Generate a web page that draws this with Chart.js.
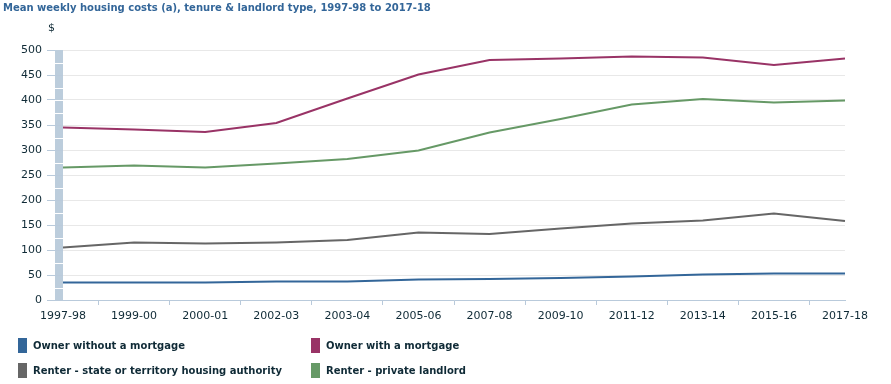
<!DOCTYPE html>
<html lang="en">
<head>
  <meta charset="UTF-8">
  <title>Mean weekly housing costs</title>
  <script src="https://cdn.jsdelivr.net/npm/chart.js"></script>
  <style>
    body {
      margin: 0;
      background: #fff;
      font-family: "DejaVu Sans", Verdana, sans-serif;
    }
    #wrap {
      position: relative;
      width: 891px;
      height: 384px;
    }
    #chart-box {
      position: absolute;
      left: 0;
      top: 0;
      width: 891px;
      height: 384px;
    }
    .title {
      position: absolute;
      left: 3px;
      top: 2px;
      font-size: 10px;
      font-weight: bold;
      color: #336699;
      white-space: nowrap;
    }
    .unit {
      position: absolute;
      left: 48px;
      top: 21px;
      font-size: 11px;
      color: #0f2a36;
    }
    .legend-item {
      position: absolute;
      font-size: 10px;
      font-weight: bold;
      color: #0f2a36;
      white-space: nowrap;
      line-height: 15px;
    }
    .legend-item span {
      display: inline-block;
      width: 9px;
      height: 15px;
      vertical-align: top;
      margin-right: 6px;
    }
  </style>
</head>
<body>
  <div id="wrap">
    <div id="chart-box"><canvas id="housingChart"></canvas></div>
    <div class="title">Mean weekly housing costs (a), tenure &amp; landlord type, 1997-98 to 2017-18</div>
    <div class="unit">$</div>
    <div id="legend"></div>
  </div>
  <script>
    var years = ['1997-98', '1999-00', '2000-01', '2002-03', '2003-04', '2005-06',
                 '2007-08', '2009-10', '2011-12', '2013-14', '2015-16', '2017-18'];
    var ownerNoMortgage = [35, 35, 35, 37, 37, 41, 42, 44, 47, 51, 53, 53];
    var ownerMortgage = [345, 341, 336, 354, 403, 451, 480, 483, 487, 485, 470, 483];
    var renterState = [105, 115, 113, 115, 120, 135, 132, 143, 153, 159, 173, 158];
    var renterPrivate = [265, 269, 265, 273, 282, 299, 335, 362, 391, 402, 395, 399];
    var yTicks = [0, 50, 100, 150, 200, 250, 300, 350, 400, 450, 500];

    var series = [
      { label: 'Owner without a mortgage', data: ownerNoMortgage, color: '#336699' },
      { label: 'Owner with a mortgage', data: ownerMortgage, color: '#993366' },
      { label: 'Renter - state or territory housing authority', data: renterState, color: '#666666' },
      { label: 'Renter - private landlord', data: renterPrivate, color: '#669966' }
    ];

    // legend in two columns, like the original
    var legendPos = [[18, 338], [311, 338], [18, 363], [311, 363]];
    var legendHtml = '';
    series.forEach(function(s, i) {
      legendHtml += '<div class="legend-item" style="left:' + legendPos[i][0] + 'px;top:' + legendPos[i][1] + 'px">' +
        '<span style="background:' + s.color + '"></span>' + s.label + '</div>';
    });
    document.getElementById('legend').innerHTML = legendHtml;

    // striped band along the y axis
    var axisBand = {
      id: 'axisBand',
      beforeDatasetsDraw: function(chart) {
        var ctx = chart.ctx;
        var y = chart.scales.y;
        var left = chart.chartArea.left;
        ctx.save();
        ctx.fillStyle = '#bccddc';
        for (var v = 0; v < 500; v += 25) {
          var top = Math.round(y.getPixelForValue(v + 25));
          var bottom = Math.round(y.getPixelForValue(v));
          var gap = v + 25 < 500 ? 1 : 0;
          ctx.fillRect(left - 8, top + gap, 8, bottom - top - gap);
        }
        ctx.restore();
      }
    };

    var ctx = document.getElementById('housingChart').getContext('2d');
    var housingChart = new Chart(ctx, {
      type: 'line',
      data: {
        labels: years,
        datasets: series.map(function(s) {
          return {
            label: s.label,
            data: s.data,
            borderColor: s.color,
            backgroundColor: s.color,
            borderWidth: 2,
            pointRadius: 0,
            tension: 0
          };
        })
      },
      options: {
        responsive: true,
        maintainAspectRatio: false,
        animation: false,
        layout: {
          padding: { left: 0, right: 46, top: 50, bottom: 0 }
        },
        plugins: {
          legend: { display: false },
          tooltip: { enabled: false }
        },
        scales: {
          x: {
            offset: false,
            afterFit: function(scale) { scale.height = 84; },
            grid: {
              offset: true,
              drawOnChartArea: false,
              tickLength: 5,
              tickColor: '#b9cadb'
            },
            border: { color: '#b9cadb', width: 1 },
            ticks: {
              autoSkip: false,
              maxRotation: 0,
              padding: 5,
              color: '#0f2a36',
              font: { family: 'DejaVu Sans', size: 11 }
            }
          },
          y: {
            min: 0,
            max: 500,
            afterFit: function(scale) { scale.width = 63; },
            afterBuildTicks: function(scale) {
              scale.ticks = yTicks.map(function(v) { return { value: v }; });
            },
            grid: {
              color: '#e8e8e8',
              tickColor: '#b9cadb',
              tickLength: 16
            },
            border: { display: false },
            ticks: {
              padding: 5,
              color: '#0f2a36',
              font: { family: 'DejaVu Sans', size: 11 }
            }
          }
        }
      },
      plugins: [axisBand]
    });
  </script>
</body>
</html>
